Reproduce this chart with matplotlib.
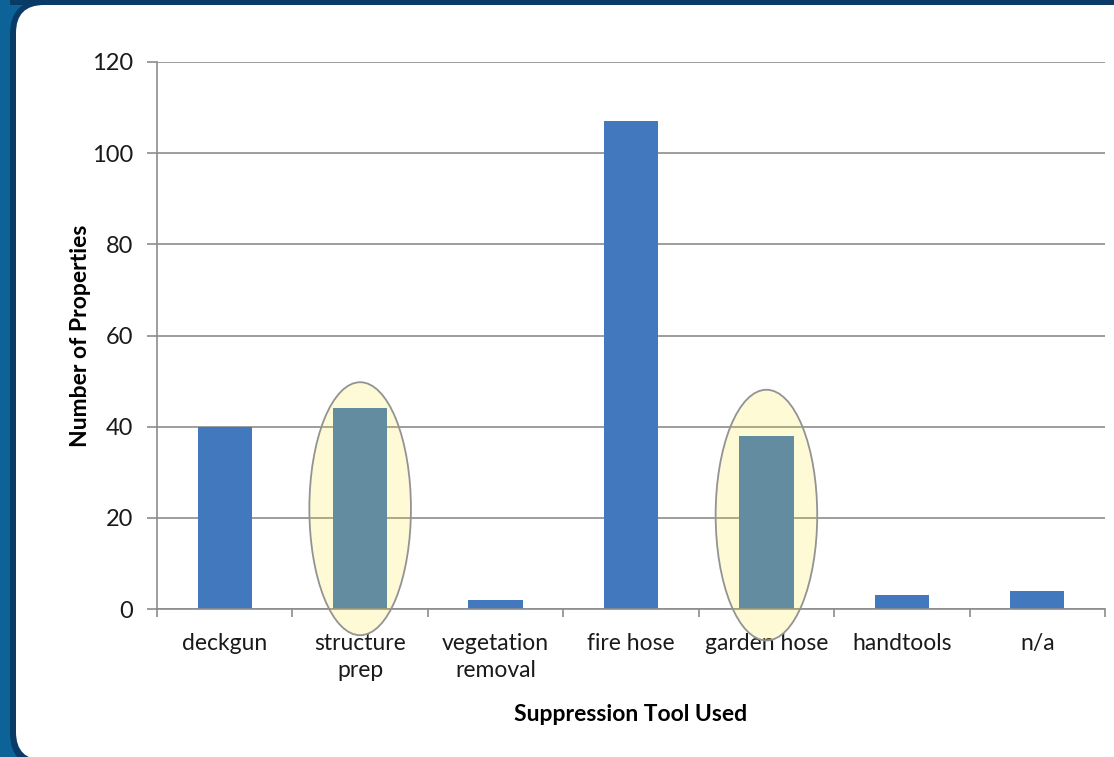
import matplotlib
matplotlib.use("Agg")
import matplotlib.pyplot as plt
from matplotlib.patches import Ellipse, FancyBboxPatch, Rectangle

# --- Data ---
tools = ["deckgun", "structure\nprep", "vegetation\nremoval", "fire hose",
         "garden hose", "handtools", "n/a"]
properties = [40, 44, 2, 107, 38, 3, 4]

# highlighted categories: (index, centre y, height in data units)
highlights = [(1, 22, 55.5), (4, 20.6, 55.0)]

plt.rcParams["font.family"] = ["Lato", "DejaVu Sans"]

W, H = 1114, 757
fig = plt.figure(figsize=(W / 100, H / 100), dpi=100)
fig.patch.set_facecolor("#0B6397")

# --- Slide-style frame (pixel coordinates) ---
fig.patches.append(FancyBboxPatch((10, -10), W + 60, H + 10,
                                  boxstyle="round,pad=0,rounding_size=34",
                                  transform=None, facecolor="#0A3A66",
                                  edgecolor="none", zorder=0))
fig.patches.append(Rectangle((10, H - 5), W, 5, transform=None,
                             facecolor="#0A3A66", edgecolor="none", zorder=0))
fig.patches.append(FancyBboxPatch((16, -3), W + 60, H - 5 + 3,
                                  boxstyle="round,pad=0,rounding_size=28",
                                  transform=None, facecolor="white",
                                  edgecolor="none", zorder=0.5))

# --- Chart ---
ax = fig.add_axes([157 / W, 148 / H, (1105 - 157) / W, (609 - 62) / H])
ax.set_zorder(2)
ax.set_facecolor("none")
x = range(len(tools))
ax.bar(x, properties, width=0.4, color="#4279BE", zorder=2)

for i, cy, h in highlights:
    ax.add_patch(Ellipse((i, cy), 0.75, h, facecolor="#FAE41E", alpha=0.18,
                         edgecolor="none", zorder=3, clip_on=False))
    ax.add_patch(Ellipse((i, cy), 0.75, h, facecolor="none",
                         edgecolor="#939393", linewidth=1.3, zorder=4,
                         clip_on=False))

ax.set_xlim(-0.5, len(tools) - 0.5)
ax.set_ylim(0, 120)
ax.set_yticks(range(0, 121, 20))
ax.set_xticks(list(x))
ax.set_xticklabels(tools, fontsize=16.5, color="#1A1A1A", linespacing=1.4)
ax.set_xticks([i - 0.5 for i in range(len(tools) + 1)], minor=True)
ax.tick_params(axis="x", which="major", length=0, pad=17)
ax.tick_params(axis="x", which="minor", length=6, color="#8C8C8C", width=1.2)
ax.tick_params(axis="y", length=7, color="#8C8C8C", width=1.2, pad=10,
               labelsize=17, labelcolor="#1A1A1A")

ax.grid(axis="y", color="#8C8C8C", linewidth=1.2, zorder=0)
ax.set_axisbelow(True)
for side in ["top", "right"]:
    ax.spines[side].set_visible(False)
for side in ["left", "bottom"]:
    ax.spines[side].set_color("#8C8C8C")
    ax.spines[side].set_linewidth(1.2)

ax.set_xlabel("Suppression Tool Used", fontsize=16.5, fontweight="bold",
              labelpad=16)
ax.set_ylabel("Number of Properties", fontsize=16.5, fontweight="bold",
              labelpad=1)

fig.savefig("out.png", dpi=100)
